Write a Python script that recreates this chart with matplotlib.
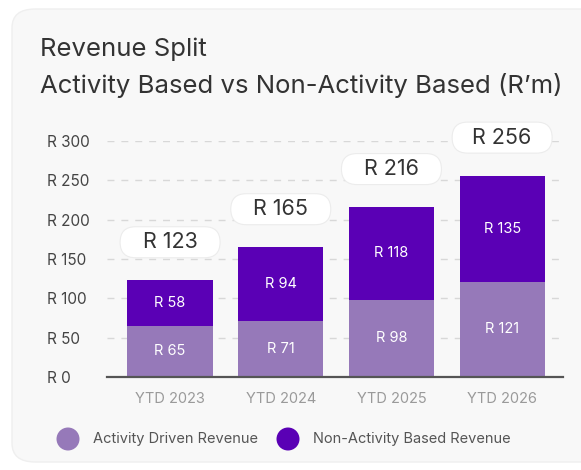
import matplotlib
matplotlib.use("Agg")
import matplotlib.pyplot as plt
from matplotlib.patches import FancyBboxPatch, Circle
from matplotlib.transforms import IdentityTransform

# Data
categories = ["YTD 2023", "YTD 2024", "YTD 2025", "YTD 2026"]
activity = [65, 71, 98, 121]
non_activity = [58, 94, 118, 135]
totals = [a + n for a, n in zip(activity, non_activity)]
yticks = [0, 50, 100, 150, 200, 250, 300]
ytick_labels = ["R 0", "R 50", "R 100", "R 150", "R 200", "R 250", "R 300"]
series_names = ["Activity Driven Revenue", "Non-Activity Based Revenue"]

light_purple = "#9679b9"
dark_purple = "#5a00b5"
card_bg = "#f8f8f8"

plt.rcParams["font.family"] = ["Inter", "DejaVu Sans"]

W, H = 581, 470
fig = plt.figure(figsize=(W / 100, H / 100), dpi=100)
fig.patch.set_facecolor("white")

# card background
card = FancyBboxPatch((12 / W, 8 / H), 600 / W, 453 / H,
                      boxstyle="round,pad=0,rounding_size=0.04",
                      transform=fig.transFigure, facecolor=card_bg,
                      edgecolor="#efefef", linewidth=1, zorder=-5)
fig.patches.append(card)

fig.text(40 / W, 1 - 56 / H, "Revenue Split", fontsize=18.5, color="#333333",
         ha="left", va="baseline")
fig.text(40 / W, 1 - 93 / H, "Activity Based vs Non-Activity Based (R\u2019m)",
         fontsize=18.5, color="#333333", ha="left", va="baseline")

ax = fig.add_axes([107 / W, 1 - 377 / H, (563 - 107) / W, (377 - 141) / H])
ax.set_facecolor("none")
ax.set_xlim(-0.57, 3.55)
ax.set_ylim(0, 300)

x = list(range(len(categories)))
bw = 0.77
ax.bar(x, activity, width=bw, color=light_purple, zorder=3)
ax.bar(x, non_activity, width=bw, bottom=activity, color=dark_purple, zorder=3)

for i in x:
    ax.text(i, activity[i] / 2, f"R {activity[i]}", ha="center", va="center",
            color="white", fontsize=10.5, zorder=4)
    ax.text(i, activity[i] + non_activity[i] / 2, f"R {non_activity[i]}",
            ha="center", va="center", color="white", fontsize=10.5, zorder=4)
    # pill with the total, 38 px above the bar top
    px, py = ax.transData.transform((i, totals[i]))
    py += 38
    pill = FancyBboxPatch((px - 50, py - 15.5), 100, 31,
                          boxstyle="round,pad=0,rounding_size=15.5",
                          transform=IdentityTransform(), facecolor="white",
                          edgecolor="#ececec", linewidth=0.8, zorder=6)
    fig.patches.append(pill)
    fig.text(px / W, py / H, f"R {totals[i]}", ha="center", va="center",
             fontsize=15.5, color="#333333", zorder=7)

ax.set_yticks(yticks)
ax.set_yticklabels(ytick_labels)
ax.yaxis.grid(True, linestyle=(0, (5, 5)), color="#d8d8d8", linewidth=1, zorder=1)
ax.set_axisbelow(True)
ax.tick_params(axis="y", length=0, pad=43, labelsize=11, labelcolor="#444444")
for lab in ax.get_yticklabels():
    lab.set_horizontalalignment("left")
ax.set_xticks(x)
ax.set_xticklabels(categories)
ax.tick_params(axis="x", length=0, pad=11, labelsize=10.5, labelcolor="#9a9a9a")

for s in ["top", "right", "left"]:
    ax.spines[s].set_visible(False)
ax.spines["bottom"].set_color("#555555")
ax.spines["bottom"].set_linewidth(1.6)
ax.spines["bottom"].set_zorder(5)

# legend
for cx, tx, col, name in [(68, 93, light_purple, series_names[0]),
                          (288, 313, dark_purple, series_names[1])]:
    fig.patches.append(Circle((cx, H - 439), 11.5, transform=IdentityTransform(),
                              facecolor=col, edgecolor="none"))
    fig.text(tx / W, 1 - 439 / H, name, fontsize=10.5, color="#555555",
             ha="left", va="center")

fig.savefig("out.png", dpi=100)
